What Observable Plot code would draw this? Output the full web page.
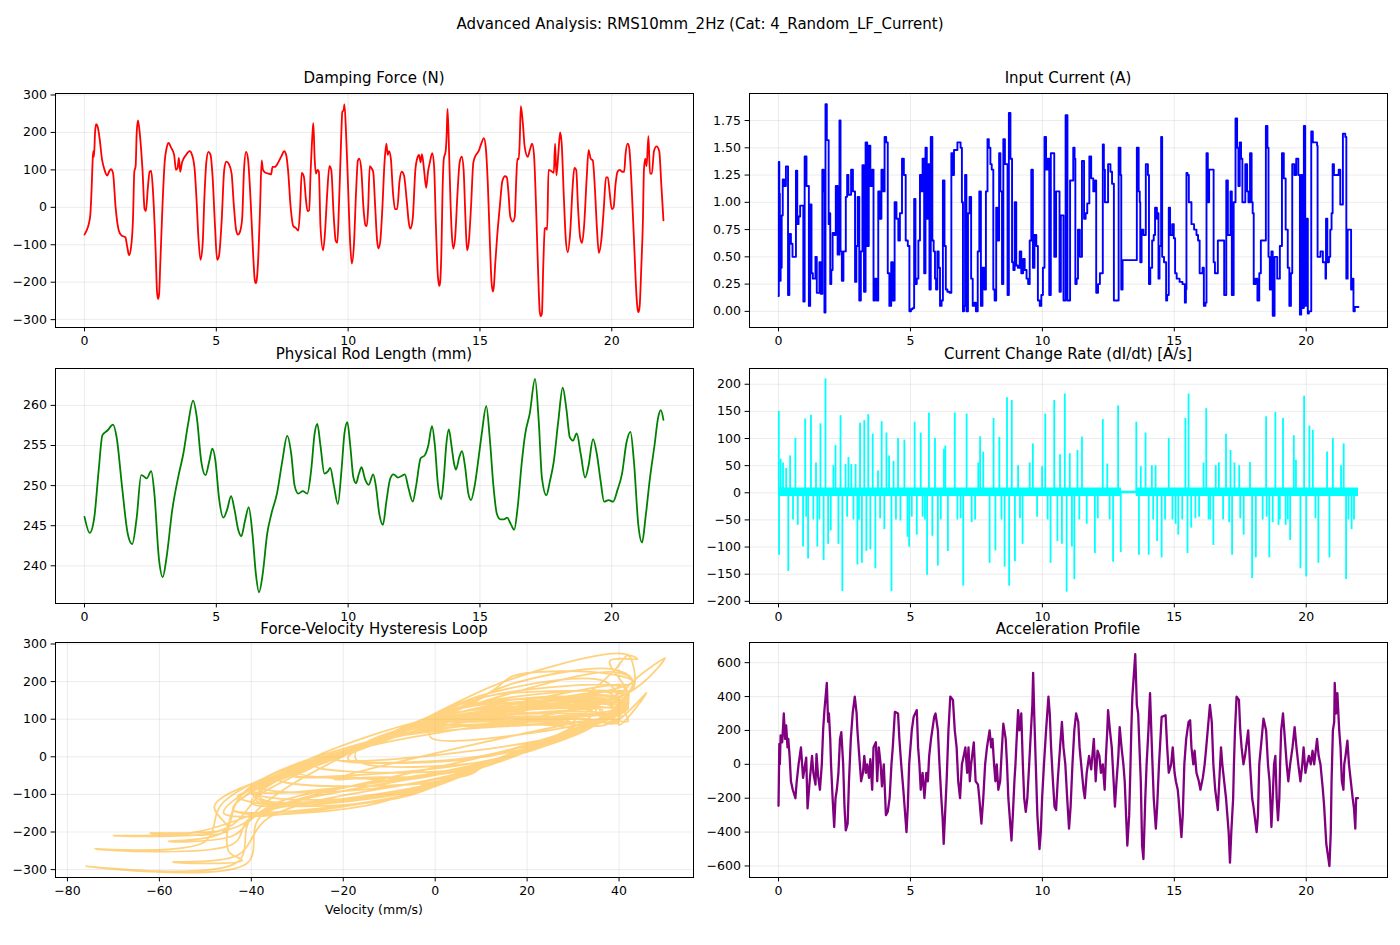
<!DOCTYPE html>
<html>
<head>
<meta charset="utf-8">
<script src="https://cdn.jsdelivr.net/npm/d3@7"></script>
<script src="https://cdn.jsdelivr.net/npm/@observablehq/plot@0.6"></script>
<style>
  html, body { margin: 0; padding: 0; background: #fff; }
  #fig { position: relative; width: 1400px; height: 945px; background: #fff; font-family: "DejaVu Sans", sans-serif; color: #000; overflow: hidden; }
  .ttl { position: absolute; transform: translateX(-50%); white-space: nowrap; font-size: 15px; line-height: 16px; }
  .lbl { position: absolute; transform: translateX(-50%); white-space: nowrap; font-size: 12.5px; line-height: 14px; }
</style>
</head>
<body>
<div id="fig"></div>
<script>
// ---------------- DATA ----------------
const suptitle = "Advanced Analysis: RMS10mm_2Hz (Cat: 4_Random_LF_Current)";
const panelTitles = ["Damping Force (N)", "Input Current (A)", "Physical Rod Length (mm)", "Current Change Rate (dI/dt) [A/s]", "Force-Velocity Hysteresis Loop", "Acceleration Profile"];
const velocityLabel = "Velocity (mm/s)";

const timeTicks = [0, 5, 10, 15, 20];
const forceTicks = [-300, -200, -100, 0, 100, 200, 300];
const currentTicks = [0, 0.25, 0.5, 0.75, 1.0, 1.25, 1.5, 1.75];
const rodTicks = [240, 245, 250, 255, 260];
const rateTicks = [-200, -150, -100, -50, 0, 50, 100, 150, 200];
const velocityTicks = [-80, -60, -40, -20, 0, 20, 40];
const accelTicks = [-600, -400, -200, 0, 200, 400, 600];

// Damping force (time, N) and the velocity (mm/s) at the same instants for the loop
const forceTime = [0.00,0.08,0.16,0.22,0.27,0.30,0.33,0.36,0.40,0.44,0.50,0.58,0.66,0.76,0.86,0.95,1.00,1.08,1.18,1.30,1.40,1.55,1.62,1.69,1.76,1.84,1.89,1.94,1.98,2.03,2.10,2.20,2.28,2.33,2.40,2.47,2.53,2.60,2.70,2.75,2.79,2.83,2.87,2.95,3.04,3.12,3.19,3.28,3.40,3.47,3.53,3.58,3.63,3.70,3.85,3.99,4.08,4.18,4.25,4.32,4.40,4.48,4.55,4.62,4.70,4.78,4.86,4.95,5.03,5.10,5.20,5.30,5.38,5.48,5.58,5.66,5.75,5.82,5.90,5.98,6.05,6.13,6.20,6.30,6.40,6.46,6.50,6.54,6.60,6.66,6.72,6.77,6.85,6.99,7.08,7.13,7.22,7.35,7.48,7.57,7.65,7.72,7.82,7.92,8.01,8.11,8.18,8.24,8.32,8.40,8.46,8.52,8.58,8.65,8.68,8.73,8.78,8.84,8.89,8.95,9.05,9.12,9.20,9.29,9.36,9.45,9.53,9.59,9.65,9.72,9.78,9.83,9.86,9.92,10.00,10.08,10.14,10.22,10.30,10.37,10.42,10.50,10.58,10.66,10.71,10.76,10.82,10.88,10.95,11.02,11.10,11.15,11.22,11.30,11.38,11.45,11.50,11.55,11.62,11.70,11.78,11.86,11.95,12.03,12.12,12.22,12.30,12.36,12.45,12.55,12.64,12.69,12.75,12.80,12.88,12.96,13.03,13.10,13.19,13.26,13.33,13.40,13.44,13.46,13.49,13.54,13.58,13.63,13.70,13.74,13.77,13.82,13.88,13.94,13.99,14.06,14.15,14.23,14.31,14.38,14.45,14.51,14.58,14.66,14.75,14.85,14.95,15.05,15.15,15.22,15.30,15.38,15.44,15.49,15.53,15.58,15.65,15.75,15.85,15.95,16.02,16.08,16.15,16.25,16.32,16.38,16.42,16.47,16.51,16.55,16.62,16.70,16.81,16.90,16.98,17.05,17.12,17.20,17.27,17.31,17.35,17.40,17.46,17.50,17.55,17.60,17.68,17.80,17.85,17.90,17.98,18.04,18.10,18.18,18.26,18.33,18.42,18.52,18.58,18.65,18.72,18.80,18.87,18.95,19.05,19.12,19.20,19.28,19.36,19.44,19.51,19.60,19.70,19.78,19.85,19.92,20.00,20.07,20.14,20.22,20.30,20.40,20.47,20.52,20.60,20.66,20.75,20.85,20.95,20.99,21.02,21.06,21.12,21.18,21.22,21.27,21.32,21.39,21.45,21.52,21.60,21.70,21.80,21.88,21.96];
const forceN = [-73,-62,-45,-20,50,110,150,135,200,222,215,180,130,100,85,98,102,92,0,-62,-75,-80,-105,-128,-110,-30,95,110,200,232,195,100,-5,-10,50,95,97,40,-120,-225,-245,-232,-160,-10,120,160,172,160,140,100,105,132,95,120,140,150,140,100,20,-80,-140,-100,30,120,148,140,80,-50,-140,-130,-40,100,122,115,90,10,-60,-73,-65,-30,100,148,130,20,-130,-195,-203,-190,-120,0,125,100,93,90,88,108,108,120,138,150,140,100,0,-50,-55,-62,0,92,82,20,-10,-8,100,200,225,130,90,100,95,-50,-115,-70,30,110,100,-20,-90,-95,0,150,255,260,275,200,50,-100,-150,-100,40,125,130,100,0,-48,-50,0,110,105,95,10,-90,-110,-90,0,120,170,140,150,130,40,-5,-5,70,95,85,20,-40,-57,-30,100,135,140,120,142,100,52,95,120,145,110,-50,-180,-205,-210,-200,-110,40,130,150,200,263,170,20,-80,-110,-80,40,120,135,100,-30,-115,-90,0,120,140,150,170,185,160,60,-100,-200,-225,-210,-150,-80,0,70,83,80,40,-25,-38,-25,80,130,128,180,270,230,160,135,155,170,140,20,-160,-280,-291,-284,-160,-57,-55,-60,100,98,92,170,85,150,200,170,30,-90,-120,-70,60,105,100,0,-80,-95,-50,80,153,130,125,50,-60,-122,-90,0,80,80,40,-5,0,60,95,100,95,95,140,170,160,60,-100,-250,-276,-280,-262,-160,-40,100,130,110,190,90,90,150,163,150,60,-35];
const loopVelocity = [-3,2,8,11,25,38,42,25,43,37,17,13,6,0,3,35,24,-2,-21,-34,-37,-38,-43,-36,-8,9,35,38,43,39,17,0,-22,-14,25,35,20,-13,-46,-50,-74,-44,-40,13,40,42,39,11,8,0,28,42,-1,40,42,40,8,0,-17,-38,-44,-6,21,40,34,8,-4,-34,-44,-15,6,36,34,3,-2,-19,-34,-30,1,9,36,34,6,-17,-48,-45,-62,-44,-34,15,35,0,28,40,37,41,36,40,42,34,14,0,-21,-31,-18,-7,15,34,-4,-17,-17,13,36,43,39,6,-2,30,8,-34,-39,0,21,38,6,-25,-40,-32,15,42,38,44,40,15,-11,-42,-46,-6,23,41,33,0,-21,-31,-19,15,38,22,-1,-19,-40,-35,-4,15,40,42,20,37,6,-13,-22,8,30,29,-3,-17,-30,-21,9,36,42,35,13,36,0,-1,35,40,36,2,-34,-44,-50,-70,-52,-29,23,42,40,43,50,42,-17,-38,-38,-2,23,40,34,0,-27,-39,-4,15,40,42,42,42,41,11,-9,-42,-46,-58,-44,-38,-2,15,30,26,4,-13,-26,-20,10,32,42,29,43,42,39,32,22,42,41,8,-17,-40,-43,-76,-41,-38,-6,-14,-22,36,36,39,46,40,40,37,12,-15,-40,-37,0,27,37,6,-21,-38,-29,4,32,42,12,20,-11,-34,-40,-4,15,32,14,-13,-19,9,27,35,38,40,42,40,38,30,-9,-42,-45,-42,-57,-43,-36,6,36,36,8,42,30,38,40,38,26,-9,-28];

// Input current (step changes: time, A)
const currentTime = [0.00,0.01,0.03,0.05,0.08,0.12,0.16,0.21,0.28,0.36,0.41,0.47,0.53,0.66,0.71,0.76,0.82,0.94,0.99,1.06,1.15,1.20,1.25,1.30,1.40,1.45,1.55,1.60,1.66,1.71,1.74,1.78,1.83,1.90,1.93,1.96,2.00,2.05,2.12,2.17,2.24,2.31,2.35,2.40,2.46,2.55,2.60,2.65,2.75,2.82,2.90,2.95,3.00,3.06,3.12,3.18,3.24,3.30,3.36,3.42,3.48,3.54,3.60,3.66,3.72,3.78,3.84,3.90,3.96,4.02,4.08,4.14,4.20,4.27,4.33,4.40,4.47,4.54,4.60,4.68,4.75,4.82,4.90,4.96,5.02,5.08,5.14,5.19,5.24,5.30,5.36,5.41,5.46,5.52,5.57,5.62,5.67,5.72,5.77,5.83,5.88,5.93,5.97,6.02,6.07,6.12,6.18,6.23,6.29,6.34,6.40,6.48,6.55,6.60,6.65,6.72,6.78,6.85,6.90,6.95,6.99,7.03,7.07,7.12,7.18,7.24,7.30,7.36,7.42,7.48,7.55,7.61,7.67,7.73,7.80,7.86,7.92,7.97,8.03,8.08,8.14,8.19,8.25,8.30,8.36,8.41,8.47,8.52,8.58,8.63,8.68,8.73,8.79,8.85,8.90,8.95,9.01,9.07,9.14,9.20,9.27,9.33,9.40,9.46,9.52,9.58,9.64,9.70,9.77,9.83,9.90,9.96,10.02,10.08,10.14,10.20,10.26,10.32,10.38,10.45,10.52,10.58,10.65,10.70,10.80,10.88,10.95,11.05,11.17,11.22,11.25,11.30,11.35,11.42,11.50,11.58,11.64,11.70,11.78,11.85,11.93,12.00,12.04,12.11,12.18,12.29,12.33,12.37,12.49,12.58,12.64,12.71,12.89,12.96,12.99,13.04,13.56,13.58,13.65,13.69,13.71,13.76,13.83,13.92,14.00,14.04,14.09,14.16,14.22,14.27,14.34,14.38,14.40,14.44,14.50,14.54,14.61,14.69,14.73,14.79,14.84,14.92,14.98,15.03,15.09,15.20,15.31,15.40,15.44,15.46,15.50,15.55,15.65,15.75,15.84,15.90,15.96,16.07,16.12,16.18,16.22,16.27,16.32,16.49,16.54,16.65,16.84,16.89,16.97,17.03,17.13,17.18,17.25,17.32,17.38,17.43,17.48,17.53,17.58,17.69,17.76,17.81,17.87,17.93,17.97,18.01,18.08,18.15,18.22,18.28,18.47,18.53,18.57,18.62,18.68,18.73,18.80,18.90,19.00,19.08,19.15,19.22,19.30,19.36,19.42,19.47,19.55,19.62,19.70,19.76,19.81,19.86,19.91,19.96,20.02,20.06,20.10,20.19,20.25,20.41,20.43,20.54,20.63,20.73,20.75,20.80,20.86,20.91,20.96,21.00,21.05,21.23,21.29,21.39,21.48,21.52,21.57,21.68,21.70,21.75,21.79,21.84,21.98];
const currentA = [0.14,1.37,1.08,0.28,0.40,0.88,1.21,1.15,1.33,0.15,0.71,0.62,0.50,1.29,0.80,0.87,0.97,0.09,1.42,1.15,0.05,0.98,0.35,0.30,0.50,0.17,0.45,0.16,1.30,1.10,-0.01,1.90,1.57,0.80,0.90,0.25,0.38,0.72,0.70,1.15,0.52,1.75,0.55,0.28,0.55,1.05,1.25,1.07,1.30,1.10,0.27,0.60,1.05,0.10,0.55,1.34,0.18,1.55,0.60,1.52,1.15,1.30,0.10,0.30,0.10,1.10,0.85,1.30,1.10,1.60,1.55,0.35,0.05,0.45,0.10,1.00,0.85,0.65,0.90,1.40,1.25,0.65,0.60,0.00,0.02,0.03,1.03,0.25,0.30,0.65,1.25,1.10,1.40,0.35,1.50,0.85,1.35,0.20,1.60,0.65,0.55,0.30,0.20,0.55,0.40,0.05,0.10,1.20,0.60,0.20,0.18,0.17,1.45,1.25,1.48,1.48,1.55,1.55,1.50,1.00,0.00,0.05,1.25,0.00,0.90,1.05,0.30,0.05,0.08,0.00,0.55,1.10,0.05,0.40,0.20,1.10,1.58,1.50,1.35,1.30,0.20,0.10,0.95,0.65,1.45,1.10,0.25,1.58,1.35,1.35,0.15,1.82,1.40,0.45,0.38,1.00,0.42,0.40,0.55,0.35,0.48,0.38,0.30,0.25,0.65,1.30,0.40,0.70,0.60,0.10,0.05,0.15,0.40,1.60,1.30,1.40,0.15,1.45,1.45,0.50,1.10,1.10,0.18,0.88,0.10,1.80,0.10,1.20,1.50,1.40,0.25,0.30,0.75,0.50,1.38,0.85,0.90,0.99,1.42,1.22,1.10,1.20,0.17,0.25,0.35,1.53,1.30,1.00,1.35,1.28,1.17,0.10,1.50,1.25,0.20,0.47,0.47,1.50,1.10,1.00,0.45,0.75,0.70,1.35,1.25,0.25,0.40,0.65,0.70,0.95,0.85,0.90,0.30,0.60,1.60,0.50,0.45,0.10,0.15,0.95,0.70,0.80,0.67,0.35,0.30,0.27,0.25,0.08,0.20,1.27,1.25,1.00,0.80,0.75,0.70,0.65,0.35,0.40,0.05,0.08,1.45,1.00,1.30,0.45,0.35,0.65,0.65,0.15,1.20,0.70,1.10,0.15,1.00,1.77,1.50,1.15,1.55,1.40,1.00,1.35,1.10,1.00,1.45,1.00,0.90,0.25,0.30,0.10,0.35,0.65,1.70,1.50,0.50,0.20,0.55,-0.04,0.50,0.30,0.60,1.45,1.22,0.75,0.40,0.05,0.35,1.35,1.25,1.40,1.25,-0.03,1.25,0.03,1.70,0.05,0.85,-0.02,0.00,1.65,1.55,1.52,0.50,0.55,0.45,0.30,0.85,0.45,0.50,0.75,0.90,1.35,1.25,1.30,0.98,1.63,1.60,0.30,0.75,0.75,0.20,0.30,0.00,0.04,0.04];

// Physical rod length (time, mm)
const rodTime = [0.00,0.20,0.37,0.54,0.68,0.88,1.08,1.22,1.42,1.64,1.81,1.98,2.15,2.23,2.36,2.53,2.65,2.82,2.97,3.11,3.33,3.55,3.75,3.92,4.12,4.26,4.43,4.59,4.73,4.85,4.97,5.10,5.27,5.41,5.56,5.69,5.83,5.95,6.08,6.23,6.37,6.50,6.62,6.76,6.93,7.09,7.30,7.50,7.69,7.84,7.97,8.11,8.28,8.45,8.60,8.73,8.83,8.95,9.10,9.24,9.32,9.46,9.61,9.75,9.86,9.97,10.08,10.20,10.30,10.41,10.51,10.64,10.78,10.95,11.05,11.18,11.32,11.45,11.59,11.72,11.89,12.03,12.15,12.28,12.45,12.58,12.75,12.91,13.04,13.18,13.29,13.41,13.53,13.63,13.72,13.82,13.92,14.02,14.09,14.22,14.32,14.43,14.56,14.66,14.80,14.93,15.07,15.24,15.37,15.51,15.64,15.78,15.91,16.03,16.17,16.30,16.42,16.59,16.72,16.89,17.09,17.23,17.35,17.52,17.65,17.80,17.97,18.14,18.28,18.41,18.53,18.67,18.82,18.99,19.12,19.29,19.43,19.58,19.71,19.88,20.05,20.22,20.39,20.56,20.71,20.84,21.01,21.15,21.28,21.45,21.62,21.76,21.86,21.96];
const rodMm = [246.1,244.1,246,252,256.3,256.9,257.6,256,250,244,242.7,246,251.3,251.2,250.9,251.8,249,241,238.6,241,247,251,254,257.5,260.6,258.5,253,251.3,253,254.6,253,248.5,246,247,248.7,247,244.5,243.7,245.5,247.3,244,239,236.7,239,244,246.5,249,253,256.2,254,250,249,249.3,249,252,256.5,257.7,255,251.5,251.8,252.2,250,247.7,252,256.5,257.9,255,251,250.3,251.5,252.3,250.8,250.1,251.4,250,246.5,245.1,248,250.8,251.4,251,251.2,251.4,249.8,248,250,253.4,253.8,255,257.4,255,250,248.3,251,255,257,255,252.7,252,253.6,254.3,252.5,249,248.2,250,253,256.5,259.9,256,250,246.5,245.8,245.8,246,245.2,244.5,247,253,256.5,259,263.3,258,251,248.8,250.5,253,258,262.2,259.5,256,255.6,256.5,254,251,252.5,255.8,254,250.5,248,248.2,248,249.5,251.5,255.4,256.7,253,245,242.9,246,251,255,258.5,259.4,258.2];

// Current change rate spikes (time, A/s) and the quiet band around zero
const rateTime = [0.01,0.02,0.08,0.17,0.29,0.37,0.44,0.55,0.64,0.73,0.93,1.01,1.05,1.12,1.23,1.32,1.42,1.47,1.55,1.59,1.71,1.78,1.88,1.98,2.08,2.16,2.27,2.35,2.42,2.54,2.60,2.65,2.76,2.84,2.92,2.99,3.05,3.09,3.16,3.25,3.33,3.40,3.48,3.57,3.67,3.77,3.85,3.91,4.01,4.09,4.19,4.28,4.36,4.45,4.53,4.62,4.77,4.89,4.95,5.05,5.16,5.24,5.39,5.46,5.55,5.63,5.70,5.83,5.93,6.04,6.15,6.27,6.32,6.42,6.68,6.78,6.90,7.00,7.13,7.32,7.45,7.57,7.64,7.76,8.00,8.15,8.22,8.37,8.45,8.57,8.66,8.74,8.84,8.96,9.08,9.15,9.25,9.52,9.64,9.80,9.99,10.11,10.20,10.31,10.45,10.57,10.67,10.74,10.85,10.92,11.04,11.12,11.21,11.33,11.40,11.50,11.68,11.99,12.10,12.29,12.46,12.55,12.68,12.87,12.97,13.56,13.66,13.73,13.91,14.03,14.15,14.20,14.29,14.35,14.52,14.65,14.79,14.93,15.05,15.15,15.30,15.42,15.50,15.54,15.64,15.80,15.94,16.11,16.21,16.30,16.36,16.48,16.57,16.69,16.85,16.96,17.08,17.13,17.19,17.28,17.46,17.50,17.63,17.87,17.95,18.09,18.35,18.48,18.50,18.60,18.73,18.83,18.95,19.00,19.12,19.22,19.30,19.39,19.53,19.61,19.78,19.92,20.00,20.12,20.25,20.35,20.46,20.79,20.88,21.01,21.32,21.42,21.51,21.60,21.72,21.81];
const rateAs = [150,-115,62,55,45,-145,68,-50,100,-60,-100,136,-45,-122,143,-50,55,-100,-50,127,-125,210,-95,-70,50,87,-95,142,-182,52,-45,65,52,-50,52,-133,-50,128,-130,133,-108,144,-105,108,-140,40,-48,131,-68,110,68,-182,58,-50,100,-52,97,-82,-100,-45,130,-78,110,-45,-50,-152,147,-80,100,-135,-50,80,86,-108,147,-50,-48,-172,145,-55,-50,55,103,75,-130,137,-107,102,-50,-137,175,-172,170,-127,50,-48,-95,55,90,-45,48,145,-50,-130,170,-90,70,-95,182,-183,72,-100,-160,78,-50,103,-58,-112,-48,135,53,-50,-128,160,-110,130,-115,48,110,-115,50,-50,50,-90,-120,-50,100,-50,-58,-78,-50,137,-112,182,-65,-48,-45,55,155,-50,-50,-97,50,55,-50,108,-55,78,-115,55,50,-48,-78,56,-158,-120,-50,140,-45,-120,-55,148,-60,-50,137,-60,-50,-88,105,60,-140,178,-155,123,115,-48,-130,75,-120,100,50,90,-160,-50,-68,-50];
const bandTime = [0, 13.0, 13.56, 21.98];
const bandLow = [-7, -2, -7, -7];
const bandHigh = [9, 3, 9, 9];

// Acceleration profile (time, value)
const accelTime = [0.00,0.03,0.05,0.08,0.14,0.20,0.25,0.29,0.34,0.37,0.42,0.47,0.54,0.64,0.69,0.76,0.85,0.93,1.05,1.10,1.18,1.27,1.32,1.40,1.44,1.50,1.57,1.64,1.69,1.74,1.83,1.88,1.91,1.96,1.99,2.05,2.11,2.16,2.21,2.27,2.33,2.38,2.45,2.50,2.55,2.62,2.67,2.74,2.81,2.89,2.96,2.99,3.06,3.13,3.20,3.25,3.31,3.36,3.43,3.48,3.55,3.60,3.69,3.74,3.80,3.87,3.92,3.99,4.07,4.14,4.21,4.28,4.33,4.41,4.53,4.58,4.65,4.73,4.85,4.90,4.95,5.05,5.12,5.24,5.29,5.34,5.39,5.46,5.53,5.60,5.66,5.71,5.78,5.90,5.95,6.04,6.10,6.17,6.22,6.26,6.31,6.37,6.44,6.51,6.61,6.68,6.75,6.81,6.88,6.95,7.02,7.08,7.15,7.20,7.25,7.30,7.40,7.47,7.56,7.61,7.69,7.76,7.83,7.90,8.00,8.06,8.11,8.17,8.22,8.27,8.33,8.40,8.45,8.52,8.61,8.66,8.71,8.83,8.88,8.94,8.98,9.01,9.08,9.13,9.20,9.26,9.31,9.37,9.43,9.50,9.55,9.62,9.65,9.69,9.75,9.81,9.89,9.94,9.99,10.06,10.14,10.23,10.28,10.33,10.40,10.46,10.52,10.58,10.67,10.74,10.80,10.87,10.94,11.01,11.07,11.14,11.21,11.28,11.36,11.41,11.50,11.56,11.61,11.68,11.77,11.85,11.95,12.02,12.09,12.16,12.22,12.29,12.36,12.41,12.46,12.49,12.56,12.63,12.70,12.75,12.81,12.88,12.93,13.00,13.07,13.12,13.22,13.29,13.34,13.37,13.41,13.52,13.58,13.63,13.68,13.73,13.78,13.83,13.90,13.95,14.02,14.08,14.15,14.22,14.30,14.35,14.42,14.52,14.67,14.73,14.79,14.88,14.94,15.01,15.06,15.13,15.16,15.27,15.32,15.38,15.45,15.54,15.60,15.65,15.72,15.77,15.84,15.93,15.99,16.08,16.15,16.21,16.35,16.42,16.48,16.55,16.65,16.72,16.77,16.82,16.89,16.96,17.06,17.11,17.16,17.23,17.26,17.30,17.36,17.45,17.50,17.55,17.62,17.68,17.80,17.87,17.95,18.00,18.12,18.17,18.22,18.31,18.38,18.48,18.55,18.61,18.68,18.73,18.78,18.83,18.88,18.93,18.98,19.01,19.05,19.12,19.19,19.26,19.32,19.39,19.48,19.56,19.63,19.70,19.78,19.85,19.90,19.97,20.03,20.10,20.17,20.24,20.30,20.41,20.47,20.54,20.63,20.68,20.76,20.88,20.93,20.96,21.01,21.06,21.08,21.13,21.18,21.25,21.30,21.35,21.41,21.44,21.49,21.56,21.62,21.69,21.76,21.81,21.86,21.89,21.96];
const accelValue = [-245,120,0,170,130,300,150,230,100,150,50,-100,-150,-200,-100,0,100,-80,40,-260,-100,50,-50,-120,60,-70,-150,0,200,320,480,250,300,150,0,-200,-370,-200,-150,-50,150,190,0,-250,-390,-350,-100,150,300,400,300,200,50,-100,-50,50,-50,0,-80,30,-150,100,130,-100,100,0,-130,0,-300,-280,-200,0,100,310,300,150,0,-150,-400,-250,0,200,280,320,100,0,-150,-50,-200,-50,-100,50,150,280,300,200,0,-200,-320,-470,-300,-100,200,400,380,200,100,-100,-200,0,50,100,-50,100,-100,0,130,-100,-120,-200,-350,-200,0,100,200,100,150,0,-100,0,-150,-100,50,240,150,0,-200,-450,-300,-100,0,100,320,200,300,0,-200,-280,-200,0,150,350,540,300,0,-300,-500,-400,-200,0,200,400,300,100,-100,-250,-270,-100,100,250,100,0,-200,-380,-250,0,200,300,250,100,-50,-150,-200,-50,50,-30,150,-100,80,50,-50,0,-150,50,200,320,200,100,-100,-250,-100,50,220,100,0,-100,-480,-300,0,200,400,650,350,300,100,-100,-480,-560,-200,0,200,420,100,-200,-380,-250,0,280,290,100,-50,0,100,-50,-100,-150,-200,-430,-300,0,150,250,260,100,0,80,-50,-100,-150,-80,0,100,350,250,0,-150,-270,-50,100,0,-100,-200,-400,-580,-400,-200,0,200,400,380,200,100,0,50,200,0,-200,-250,-400,-300,0,150,270,200,0,-100,-370,-200,0,50,-200,-330,-200,0,200,300,150,0,-100,0,100,220,100,0,-100,0,100,-50,0,50,0,80,0,150,50,0,-150,-250,-470,-600,-400,-100,200,250,480,300,420,200,100,-100,-150,0,50,140,0,-100,-200,-260,-380,-200,-200];

// ---------------- LAYOUT / DRAW ----------------
const fig = document.getElementById("fig");
const fmtInt = d3.format("");
const fmt2 = d3.format(".2f");

function addText(cls, text, cx, top) {
  const d = document.createElement("div");
  d.className = cls; d.textContent = text;
  d.style.left = cx + "px"; d.style.top = top + "px";
  fig.appendChild(d);
}

function panel(o) {
  const ml = 60, mr = 12, mt = 10, mb = 30;
  const w = o.right - o.left, h = o.bottom - o.top;
  const grid = {stroke: "#b0b0b0", strokeOpacity: 0.3, strokeWidth: 0.8};
  const svg = Plot.plot({
    width: w + ml + mr, height: h + mt + mb,
    marginLeft: ml, marginRight: mr, marginTop: mt, marginBottom: mb,
    x: {domain: o.xDomain}, y: {domain: o.yDomain},
    style: {fontFamily: "DejaVu Sans, sans-serif", fontSize: "12.5px", color: "#000", background: "transparent", overflow: "visible"},
    marks: [
      Plot.gridX({ticks: o.xTicks, ...grid}),
      Plot.gridY({ticks: o.yTicks, ...grid}),
      ...o.marks,
      Plot.frame({stroke: "#000", strokeWidth: 1}),
      Plot.axisX({ticks: o.xTicks, tickFormat: o.xFormat || fmtInt, tickSize: 4.4, tickPadding: 4.2, label: null}),
      Plot.axisY({ticks: o.yTicks, tickFormat: o.yFormat || fmtInt, tickSize: 4.4, tickPadding: 4.2, label: null})
    ]
  });
  svg.style.position = "absolute";
  svg.style.left = (o.left - ml) + "px";
  svg.style.top = (o.top - mt) + "px";
  fig.appendChild(svg);
}

const L = {left: 55, right: 693}, R = {left: 749, right: 1387};
const row1 = {top: 93, bottom: 327}, row2 = {top: 368, bottom: 603}, row3 = {top: 642, bottom: 877};

const forceRows = forceTime.map((t, i) => ({t, f: forceN[i], v: loopVelocity[i]}));
const currentRows = currentTime.map((t, i) => ({t, a: currentA[i]}));
const rodRows = rodTime.map((t, i) => ({t, l: rodMm[i]}));
const rateRows = rateTime.map((t, i) => ({t, r: rateAs[i]}));
const bandRows = bandTime.map((t, i) => ({t, lo: bandLow[i], hi: bandHigh[i]}));
const accelRows = accelTime.map((t, i) => ({t, a: accelValue[i]}));

// Damping force
panel({...L, ...row1, xDomain: [-1.1, 23.1], yDomain: [-321, 304], xTicks: timeTicks, yTicks: forceTicks,
  marks: [Plot.line(forceRows, {x: "t", y: "f", stroke: "red", strokeWidth: 1.8, curve: "monotone-x"})]});
// Input current
panel({...R, ...row1, xDomain: [-1.1, 23.08], yDomain: [-0.148, 1.998], xTicks: timeTicks, yTicks: currentTicks, yFormat: fmt2,
  marks: [Plot.line(currentRows, {x: "t", y: "a", stroke: "blue", strokeWidth: 1.9, curve: "step-after"})]});
// Rod length
panel({...L, ...row2, xDomain: [-1.1, 23.1], yDomain: [235.3, 264.6], xTicks: timeTicks, yTicks: rodTicks,
  marks: [Plot.line(rodRows, {x: "t", y: "l", stroke: "green", strokeWidth: 1.8, curve: "monotone-x"})]});
// Current change rate
panel({...R, ...row2, xDomain: [-1.1, 23.08], yDomain: [-204, 229], xTicks: timeTicks, yTicks: rateTicks,
  marks: [
    Plot.areaY(bandRows, {x: "t", y1: "lo", y2: "hi", fill: "cyan", curve: "step-after"}),
    Plot.ruleX(rateRows, {x: "t", y1: 0, y2: "r", stroke: "cyan", strokeWidth: 1.8})
  ]});
// Hysteresis loop
panel({...L, ...row3, xDomain: [-82.6, 56.2], yDomain: [-321, 304], xTicks: velocityTicks, yTicks: forceTicks,
  marks: [Plot.line(forceRows, {x: "v", y: "f", stroke: "orange", strokeOpacity: 0.5, strokeWidth: 1.8, curve: "catmull-rom"})]});
// Acceleration
panel({...R, ...row3, xDomain: [-1.1, 23.08], yDomain: [-668, 719], xTicks: timeTicks, yTicks: accelTicks,
  marks: [Plot.line(accelRows, {x: "t", y: "a", stroke: "purple", strokeWidth: 2.3})]});

// Titles
addText("ttl", suptitle, 700, 16);
addText("ttl", panelTitles[0], 374, 70);
addText("ttl", panelTitles[1], 1068, 70);
addText("ttl", panelTitles[2], 374, 346);
addText("ttl", panelTitles[3], 1068, 346);
addText("ttl", panelTitles[4], 374, 621);
addText("ttl", panelTitles[5], 1068, 621);
addText("lbl", velocityLabel, 374, 903);
</script>
</body>
</html>
